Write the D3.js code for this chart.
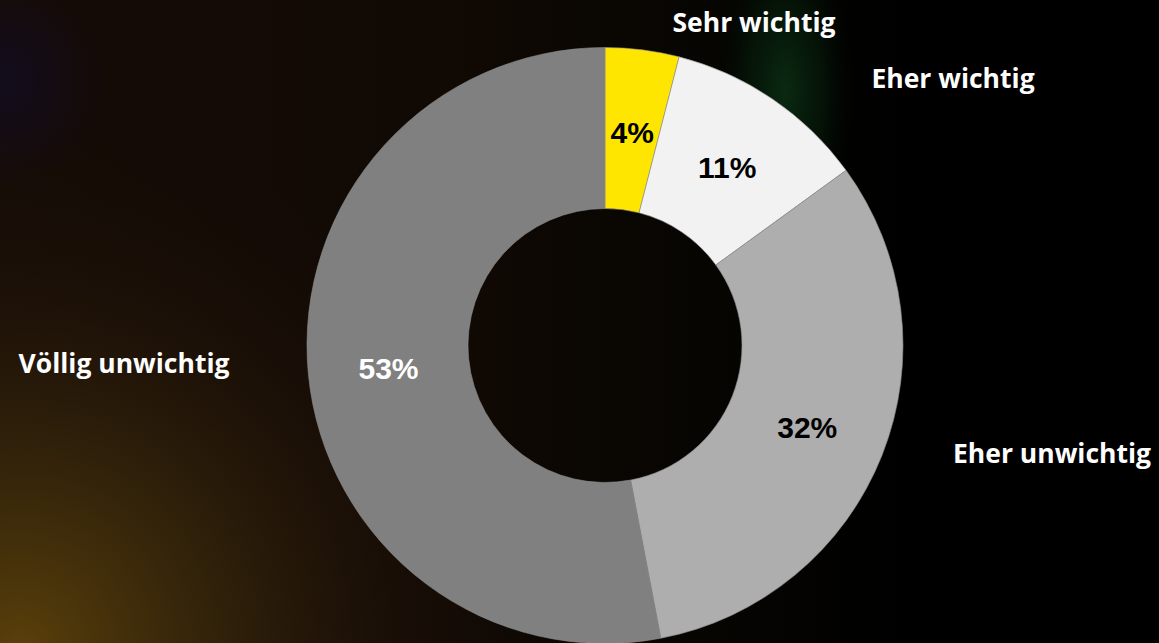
<!DOCTYPE html>
<html>
<head>
<meta charset="utf-8">
<script src="https://cdn.jsdelivr.net/npm/d3@7"></script>
<style>
  html, body { margin: 0; padding: 0; background: #000; overflow: hidden; }
  svg { display: block; }
</style>
</head>
<body>
<svg id="chart" width="1159" height="643"></svg>
<script>
// Survey answers, clockwise from 12 o'clock
const categories = ["Sehr wichtig", "Eher wichtig", "Eher unwichtig", "Völlig unwichtig"];
const shares = [4, 11, 32, 53];
const percentLabels = ["4%", "11%", "32%", "53%"];

const sliceColors = ["#FFE600", "#F2F2F2", "#AEAEAE", "#808080"];
const percentColors = ["#000", "#000", "#000", "#fff"];

// where each category name sits (center x, baseline y)
const namePlacement = {
  "Sehr wichtig":     [754, 32],
  "Eher wichtig":     [953, 88],
  "Eher unwichtig":   [1052, 463],
  "Völlig unwichtig": [124, 373]
};

const W = 1159, H = 643;
const cx = 605, cy = 345.5;
const outerR = 298, innerR = 137;

const svg = d3.select("#chart");
const defs = svg.append("defs");

// ---- background: dark with warm glow lower left, faint green streak, violet hint top left
const lin = defs.append("linearGradient").attr("id", "bgLin")
  .attr("x1", "0").attr("y1", "0").attr("x2", "1").attr("y2", "0");
lin.append("stop").attr("offset", "0").attr("stop-color", "#150c06");
lin.append("stop").attr("offset", "0.38").attr("stop-color", "#110904");
lin.append("stop").attr("offset", "0.62").attr("stop-color", "#060502");
lin.append("stop").attr("offset", "0.78").attr("stop-color", "#000");
lin.append("stop").attr("offset", "1").attr("stop-color", "#000");

const warm = defs.append("radialGradient").attr("id", "bgWarm")
  .attr("gradientUnits", "userSpaceOnUse")
  .attr("cx", 20).attr("cy", 650).attr("r", 540);
warm.append("stop").attr("offset", "0").attr("stop-color", "#5a400a").attr("stop-opacity", 1);
warm.append("stop").attr("offset", "0.35").attr("stop-color", "#3a290b").attr("stop-opacity", 0.8);
warm.append("stop").attr("offset", "0.7").attr("stop-color", "#24160a").attr("stop-opacity", 0.4);
warm.append("stop").attr("offset", "1").attr("stop-color", "#140c06").attr("stop-opacity", 0);

const green = defs.append("radialGradient").attr("id", "bgGreen")
  .attr("gradientUnits", "userSpaceOnUse")
  .attr("cx", 785).attr("cy", 90).attr("r", 75)
  .attr("gradientTransform", "translate(785,90) scale(1,2.4) translate(-785,-90)");
green.append("stop").attr("offset", "0").attr("stop-color", "#0a2a12").attr("stop-opacity", 1);
green.append("stop").attr("offset", "0.5").attr("stop-color", "#061c0a").attr("stop-opacity", 0.65);
green.append("stop").attr("offset", "1").attr("stop-color", "#000").attr("stop-opacity", 0);

const violet = defs.append("radialGradient").attr("id", "bgViolet")
  .attr("gradientUnits", "userSpaceOnUse")
  .attr("cx", 0).attr("cy", 80).attr("r", 110);
violet.append("stop").attr("offset", "0").attr("stop-color", "#120c26").attr("stop-opacity", 0.7);
violet.append("stop").attr("offset", "1").attr("stop-color", "#120c26").attr("stop-opacity", 0);

svg.append("rect").attr("width", W).attr("height", H).attr("fill", "url(#bgLin)");
svg.append("rect").attr("width", W).attr("height", H).attr("fill", "url(#bgWarm)");
svg.append("rect").attr("width", W).attr("height", H).attr("fill", "url(#bgGreen)");
svg.append("rect").attr("width", W).attr("height", H).attr("fill", "url(#bgViolet)");

// ---- donut
const rows = categories.map((c, i) => ({ name: c, value: shares[i], label: percentLabels[i], i }));

const pie = d3.pie().value(d => d.value).sort(null);
const arc = d3.arc().innerRadius(innerR).outerRadius(outerR);
const arcs = pie(rows);

const g = svg.append("g").attr("transform", `translate(${cx},${cy})`);

g.selectAll("path.slice")
  .data(arcs)
  .join("path")
  .attr("class", "slice")
  .attr("d", arc)
  .attr("fill", d => sliceColors[d.data.i])
  .attr("stroke", "#8f8f8f")
  .attr("stroke-width", 0.6);

g.selectAll("text.pct")
  .data(arcs)
  .join("text")
  .attr("class", "pct")
  .attr("transform", d => { const [x, y] = arc.centroid(d); return `translate(${x},${y + 2})`; })
  .attr("text-anchor", "middle")
  .attr("dy", "0.36em")
  .attr("font-family", "'Liberation Sans', Arial, sans-serif")
  .attr("font-weight", "bold")
  .attr("font-size", 30)
  .attr("fill", d => percentColors[d.data.i])
  .text(d => d.data.label);

// ---- category names
svg.selectAll("text.name")
  .data(rows)
  .join("text")
  .attr("class", "name")
  .attr("x", d => namePlacement[d.name][0])
  .attr("y", d => namePlacement[d.name][1])
  .attr("text-anchor", "middle")
  .attr("font-family", "'Open Sans', 'Noto Sans', sans-serif")
  .attr("font-weight", "bold")
  .attr("font-size", 26.5)
  .attr("fill", "#fff")
  .text(d => d.name);
</script>
</body>
</html>
